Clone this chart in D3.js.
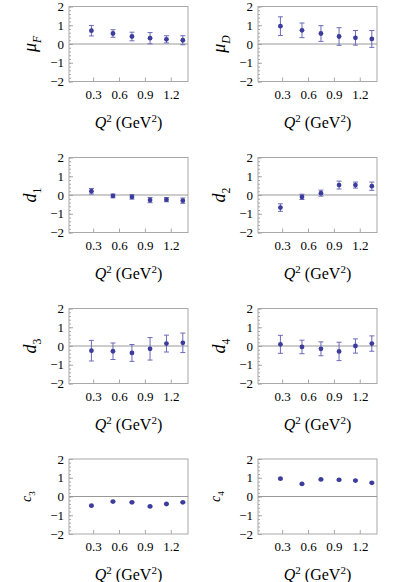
<!DOCTYPE html>
<html>
<head>
<meta charset="utf-8">
<script src="https://cdn.jsdelivr.net/npm/d3@7"></script>
<style>
  body { margin: 0; background: #fff; }
  svg { display: block; }
</style>
</head>
<body>
<svg id="chart" width="399" height="582"></svg>
<script>
// Q^2 points (GeV^2), shared by every panel
const q2 = [0.28, 0.53, 0.75, 0.96, 1.15, 1.34];

// panel values and error bars
const muF = [0.71, 0.56, 0.40, 0.31, 0.25, 0.20];
const muFErr = [0.28, 0.20, 0.23, 0.30, 0.19, 0.24];
const muD = [0.95, 0.73, 0.56, 0.40, 0.33, 0.27];
const muDErr = [0.50, 0.39, 0.42, 0.47, 0.39, 0.45];
const d1 = [0.20, -0.05, -0.10, -0.27, -0.25, -0.30];
const d1Err = [0.15, 0.10, 0.12, 0.14, 0.11, 0.14];
const d2 = [-0.67, -0.10, 0.10, 0.53, 0.53, 0.47];
const d2Err = [0.20, 0.14, 0.16, 0.21, 0.16, 0.22];
const d3v = [-0.25, -0.28, -0.37, -0.15, 0.13, 0.17];
const d3Err = [0.55, 0.44, 0.45, 0.60, 0.45, 0.52];
const d4 = [0.09, -0.05, -0.15, -0.29, 0.00, 0.13];
const d4Err = [0.48, 0.36, 0.37, 0.49, 0.38, 0.41];
const c3 = [-0.49, -0.27, -0.31, -0.53, -0.40, -0.31];
const c3Err = [0.03, 0.03, 0.03, 0.03, 0.03, 0.03];
const c4 = [0.95, 0.67, 0.91, 0.89, 0.85, 0.73];
const c4Err = [0.03, 0.03, 0.03, 0.03, 0.03, 0.03];

// axis ticks
const xTicks = [0.3, 0.6, 0.9, 1.2];
const yTicks = [-2, -1, 0, 1, 2];
const yMinor = d3.range(-20, 21, 2).map(d => d / 10);

const panels = [
    { sym: 'μ', sub: 'F', subItalic: true, vals: muF, errs: muFErr },
    { sym: 'μ', sub: 'D', subItalic: true, vals: muD, errs: muDErr },
    { sym: 'd', sub: '1', vals: d1, errs: d1Err },
    { sym: 'd', sub: '2', vals: d2, errs: d2Err },
    { sym: 'd', sub: '3', vals: d3v, errs: d3Err },
    { sym: 'd', sub: '4', vals: d4, errs: d4Err },
    { sym: 'c', sub: '3', vals: c3, errs: c3Err, small: true },
    { sym: 'c', sub: '4', vals: c4, errs: c4Err, small: true }
];

const serif = '"Liberation Serif"';

const colLeft = [69, 258];
const rowTop = [6.5, 157.5, 308.5, 459];
const W = 119, H = 75;

const ptColor = '#3c3c9c';
const barColor = '#6a6ab8';
const frameColor = '#a8a8a8';

const svg = d3.select('#chart').style('font-family', serif);

const x = d3.scaleLinear().domain([0.02, 1.4]).range([0, W]);
const y = d3.scaleLinear().domain([-2, 2]).range([H, 0]);

panels.forEach((p, i) => {
    const g = svg.append('g')
        .attr('transform', `translate(${colLeft[i % 2]},${rowTop[Math.floor(i / 2)]})`);

    // minor ticks on the left
    g.append('g')
        .call(d3.axisLeft(y).tickValues(yMinor).tickSize(-2).tickFormat(''))
        .call(a => a.select('.domain').remove())
        .selectAll('line').attr('stroke', frameColor);

    // major ticks and labels
    const ya = g.append('g')
        .call(d3.axisLeft(y).tickValues(yTicks).tickSize(-4).tickPadding(5).tickFormat(d3.format('d')));
    ya.attr('font-family', null);
    ya.select('.domain').remove();
    ya.selectAll('line').attr('stroke', frameColor);
    ya.selectAll('text').style('font-family', serif).style('font-size', '13px');

    const xa = g.append('g')
        .attr('transform', `translate(0,${H})`)
        .call(d3.axisBottom(x).tickValues(xTicks).tickSize(-4).tickPadding(8).tickFormat(d3.format('.1f')));
    xa.attr('font-family', null);
    xa.select('.domain').remove();
    xa.selectAll('line').attr('stroke', frameColor);
    xa.selectAll('text').style('font-family', serif).style('font-size', '13px');

    // frame
    g.append('rect')
        .attr('x', 0).attr('y', 0).attr('width', W).attr('height', H)
        .attr('fill', 'none').attr('stroke', frameColor).attr('stroke-width', 1);

    // zero line
    g.append('line')
        .attr('x1', 0).attr('x2', W)
        .attr('y1', y(0)).attr('y2', y(0))
        .attr('stroke', '#999').attr('stroke-width', 1);

    const pts = q2.map((q, j) => ({ q: q, v: p.vals[j], e: p.errs[j] }));

    // error bars
    const eb = g.append('g').selectAll('g').data(pts).enter().append('g')
        .attr('stroke', barColor).attr('stroke-width', 1);
    eb.append('line')
        .attr('x1', d => x(d.q)).attr('x2', d => x(d.q))
        .attr('y1', d => y(d.v - d.e)).attr('y2', d => y(d.v + d.e));
    eb.append('line')
        .attr('x1', d => x(d.q) - 2.5).attr('x2', d => x(d.q) + 2.5)
        .attr('y1', d => y(d.v + d.e)).attr('y2', d => y(d.v + d.e));
    eb.append('line')
        .attr('x1', d => x(d.q) - 2.5).attr('x2', d => x(d.q) + 2.5)
        .attr('y1', d => y(d.v - d.e)).attr('y2', d => y(d.v - d.e));

    // points
    g.append('g').selectAll('circle').data(pts).enter().append('circle')
        .attr('cx', d => x(d.q)).attr('cy', d => y(d.v))
        .attr('r', 2.4).attr('fill', ptColor);

    // x title: Q^2 (GeV^2)
    const xt = g.append('text')
        .attr('x', W / 2).attr('y', H + 46)
        .attr('text-anchor', 'middle')
        .style('font-family', serif).style('font-size', '16px');
    xt.append('tspan').style('font-style', 'italic').text('Q');
    xt.append('tspan').style('font-size', '11px').attr('dy', -6).text('2');
    xt.append('tspan').attr('dy', 6).text(' (GeV');
    xt.append('tspan').style('font-size', '11px').attr('dy', -6).text('2');
    xt.append('tspan').attr('dy', 6).text(')');

    // y title, rotated
    const fs = p.small ? 14 : 18;
    const yt = g.append('text')
        .attr('transform', `translate(${p.small ? -38 : -33},${H / 2}) rotate(-90)`)
        .attr('text-anchor', 'middle')
        .style('font-family', serif).style('font-size', fs + 'px');
    yt.append('tspan').style('font-style', 'italic').text(p.sym);
    yt.append('tspan')
        .style('font-size', (fs * 0.65) + 'px')
        .style('font-style', p.subItalic ? 'italic' : 'normal')
        .attr('dy', fs * 0.25)
        .text(p.sub);
});
</script>
</body>
</html>
